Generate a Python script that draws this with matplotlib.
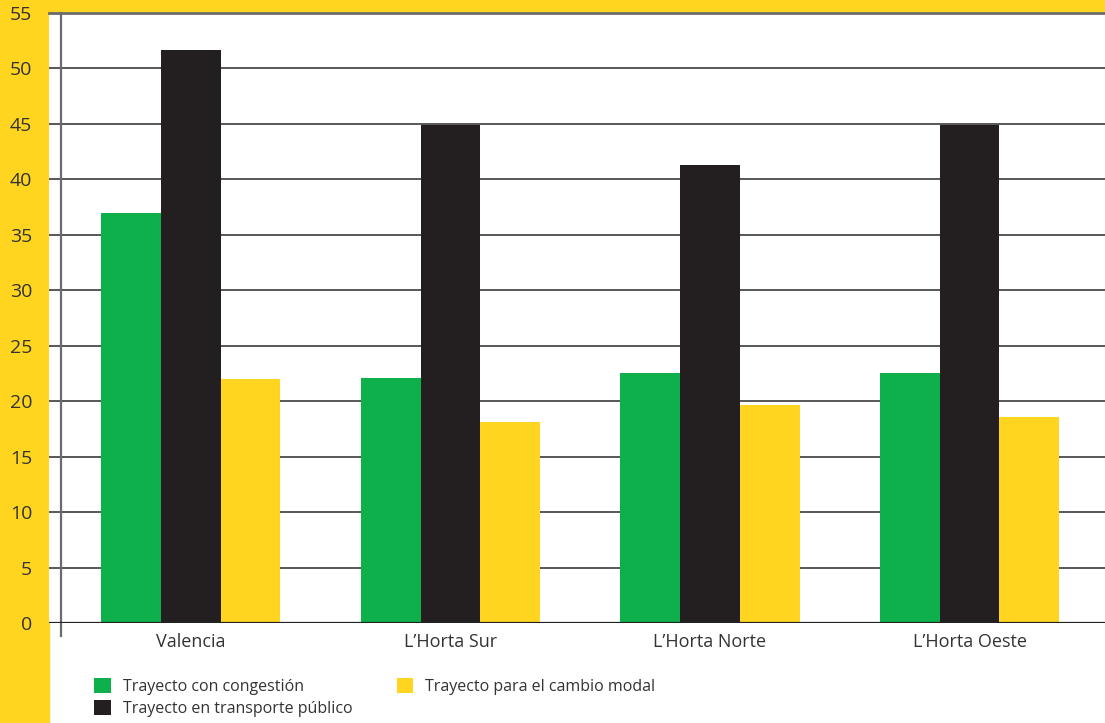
import matplotlib.pyplot as plt
import numpy as np
from matplotlib.patches import Rectangle

plt.rcParams['font.family'] = ['Open Sans', 'DejaVu Sans']

zonas = ["Valencia", "L\u2019Horta Sur", "L\u2019Horta Norte", "L\u2019Horta Oeste"]
congestion = [37.0, 22.1, 22.5, 22.5]
transporte_publico = [51.7, 44.9, 41.3, 44.9]
cambio_modal = [22.0, 18.1, 19.7, 18.6]
yticks = list(range(0, 60, 5))

VERDE = "#0db04b"
NEGRO = "#231f20"
AMARILLO = "#ffd520"
TEXTO = "#333333"

W, H = 1105, 723
fig = plt.figure(figsize=(W / 100, H / 100), dpi=100)

# franjas amarillas de fondo
fig.patches.append(Rectangle((0, 0), 49 / W, 1, transform=fig.transFigure,
                             color=AMARILLO, zorder=-10))
fig.patches.append(Rectangle((0, (H - 13) / H), 1, 13 / H, transform=fig.transFigure,
                             color=AMARILLO, zorder=-10))

ax = fig.add_axes([49 / W, (H - 623) / H, (W - 49) / W, (623 - 13) / H])

x = np.arange(len(zonas))
w = 0.23
ax.bar(x - w, congestion, w, color=VERDE, label="Trayecto con congesti\u00f3n", zorder=3)
ax.bar(x, transporte_publico, w, color=NEGRO, label="Trayecto en transporte p\u00fablico", zorder=3)
ax.bar(x + w, cambio_modal, w, color=AMARILLO, label="Trayecto para el cambio modal", zorder=3)

ax.set_xlim(-0.547, 3.522)
ax.set_ylim(0, 55)

for v in yticks[1:-1]:
    ax.axhline(v, color="#2a2a2a", lw=1.1, zorder=1)
ax.axhline(0, color="#222222", lw=1.6, zorder=4)

# eje vertical
ax.plot([-0.5, -0.5], [-1.2, 55], color="#6b6b6b", lw=1.6, clip_on=False, zorder=2)

for s in ["left", "right", "bottom"]:
    ax.spines[s].set_visible(False)
ax.spines["top"].set_color("#6b6b6b")
ax.spines["top"].set_linewidth(2)

ax.set_yticks(yticks)
ax.set_yticklabels([str(v) for v in yticks], fontsize=14, color=TEXTO)
ax.tick_params(axis="y", length=0, pad=12)
ax.set_xticks(x)
ax.set_xticklabels(zonas, fontsize=13, color=TEXTO)
ax.tick_params(axis="x", length=0, pad=7)

handles, labels = ax.get_legend_handles_labels()
leg = fig.legend(handles, labels,
                 loc="upper left", bbox_to_anchor=(88 / W, (H - 672) / H), ncol=2,
                 frameon=False, fontsize=11.5, handlelength=1.05, handleheight=1.05,
                 handletextpad=0.75, columnspacing=2.75, labelspacing=0.3,
                 borderaxespad=0)
for t in leg.get_texts():
    t.set_color(TEXTO)

fig.savefig("out.png", dpi=100)
